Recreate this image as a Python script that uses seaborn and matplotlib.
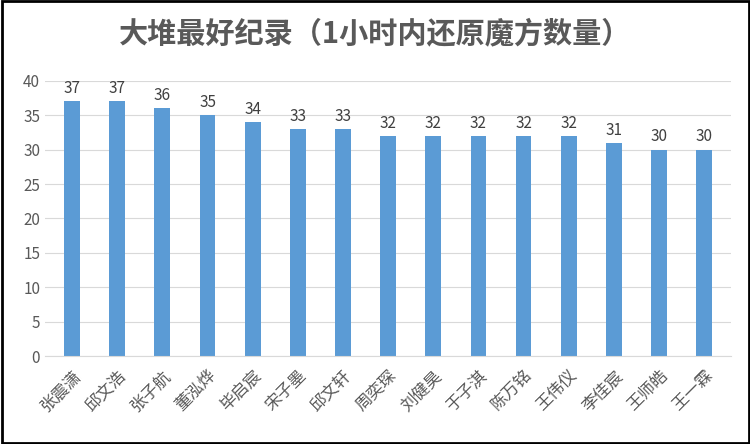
import matplotlib
matplotlib.use("Agg")
import matplotlib.pyplot as plt
import seaborn as sns
import pandas as pd

names = ["张震潇","邱文浩","张子航","董泓烨","毕启宸","宋子墨","邱文轩","周奕琛","刘健昊","于子淇","陈万铭","王伟仪","李佳宸","王师皓","王一霖"]
values = [37,37,36,35,34,33,33,32,32,32,32,32,31,30,30]
title = "大堆最好纪录（1小时内还原魔方数量）"

plt.rcParams["font.family"] = "Noto Sans CJK SC"
df = pd.DataFrame({"name": names, "value": values})
fig = plt.figure(figsize=(7.5, 4.44), dpi=100)
ax = fig.add_axes([0.06, 0.198, 0.915, 0.62])
sns.barplot(data=df, x="name", y="value", color="#5B9BD5", width=0.35, saturation=1, ax=ax)
ax.set_ylim(0, 40)
ax.set_yticks(range(0, 41, 5))
ax.grid(axis="y", color="#D9D9D9", linewidth=0.8)
ax.set_axisbelow(True)
for s in ["top", "right", "left"]:
    ax.spines[s].set_visible(False)
ax.spines["bottom"].set_color("#D9D9D9")
ax.tick_params(axis="both", length=0, colors="#595959", labelsize=11)
ax.tick_params(axis="x", pad=8)
ax.set_xlabel(""); ax.set_ylabel("")
ax.set_xticks(range(len(names)))
ax.set_xticklabels(names, rotation=45, ha="right", rotation_mode="anchor", fontsize=12, color="#595959")
for i, v in enumerate(values):
    ax.text(i, v + 0.6, str(v), ha="center", va="bottom", fontsize=11, color="#404040")
ax.set_xlim(-0.6, len(names) - 0.4)
fig.text(0.5, 0.925, title, ha="center", va="center", fontsize=21, color="#595959", fontweight="bold")
fig.patches.append(plt.Rectangle((0.002, 0.003), 0.996, 0.994, transform=fig.transFigure, fill=False, edgecolor="black", linewidth=2))
fig.savefig("out.png", dpi=100, facecolor="white")
